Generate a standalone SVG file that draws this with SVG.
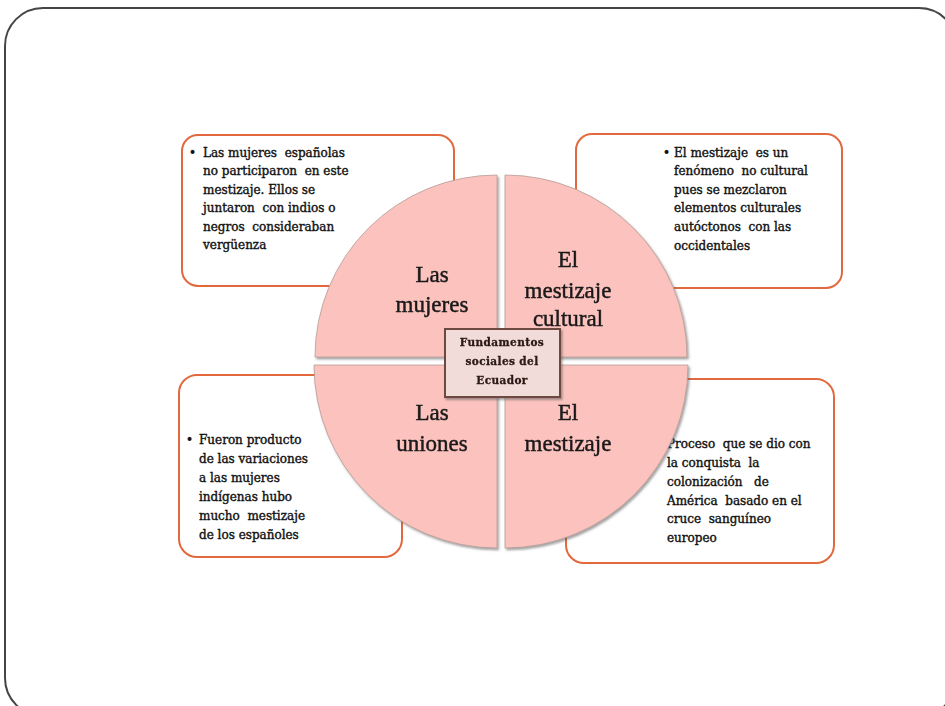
<svg xmlns="http://www.w3.org/2000/svg" width="945" height="706" viewBox="0 0 945 706">
<defs>
<style>
.frame{fill:#fff;stroke:#454545;stroke-width:2}
.box{fill:#fff;stroke:#E2693E;stroke-width:2}
.q{fill:#FCC3BE;stroke:#b89c98;stroke-width:0.8}
.ql{font-family:"Liberation Serif",serif;font-size:23px;fill:#1a1a1a;stroke:#1a1a1a;stroke-width:0.45;text-anchor:middle}
.bt{font-family:"DejaVu Serif",serif;font-size:12px;fill:#111;stroke:#111;stroke-width:0.4;white-space:pre}
.ct{font-family:"DejaVu Serif",serif;font-size:10.5px;font-weight:bold;fill:#2a1a14;stroke:#2a1a14;stroke-width:0.3;text-anchor:middle;letter-spacing:0.4px}
</style>
<filter id="sh" x="-10%" y="-10%" width="125%" height="125%">
<feDropShadow dx="1.5" dy="2" stdDeviation="1.3" flood-color="#555" flood-opacity="0.55"/>
</filter>
</defs>
<rect class="frame" x="5" y="8" width="952" height="708" rx="38"/>
<g id="box-mujeres">
<rect class="box" x="182" y="135" width="272" height="151" rx="16"/>
<text class="bt"><tspan x="189" y="157">•</tspan><tspan x="203" y="157">Las mujeres  españolas</tspan><tspan x="203" y="175">no participaron  en este</tspan><tspan x="203" y="194">mestizaje. Ellos se</tspan><tspan x="203" y="212">juntaron  con indios o</tspan><tspan x="203" y="231">negros  consideraban</tspan><tspan x="203" y="249">vergüenza</tspan></text>
</g>
<g id="box-cultural">
<rect class="box" x="576" y="134" width="266" height="154" rx="16"/>
<text class="bt"><tspan x="663" y="157">•</tspan><tspan x="674" y="157">El mestizaje  es un</tspan><tspan x="674" y="175">fenómeno  no cultural</tspan><tspan x="674" y="194">pues se mezclaron</tspan><tspan x="674" y="212">elementos culturales</tspan><tspan x="674" y="231">autóctonos  con las</tspan><tspan x="674" y="250">occidentales</tspan></text>
</g>
<g id="box-uniones">
<rect class="box" x="179" y="375" width="223" height="182" rx="18"/>
<text class="bt"><tspan x="186" y="444">•</tspan><tspan x="199" y="444">Fueron producto</tspan><tspan x="199" y="463">de las variaciones</tspan><tspan x="199" y="482">a las mujeres</tspan><tspan x="199" y="501">indígenas hubo</tspan><tspan x="199" y="520">mucho  mestizaje</tspan><tspan x="199" y="539">de los españoles</tspan></text>
</g>
<g id="box-mestizaje">
<rect class="box" x="566" y="379" width="268" height="184" rx="18"/>
<text class="bt"><tspan x="667" y="448">Proceso  que se dio con</tspan><tspan x="667" y="467">la conquista  la</tspan><tspan x="667" y="486">colonización   de</tspan><tspan x="667" y="505">América  basado en el</tspan><tspan x="667" y="523">cruce  sanguíneo</tspan><tspan x="667" y="542">europeo</tspan></text>
</g>
<g id="q-mujeres" filter="url(#sh)">
<path class="q" d="M497,357 L315,357 A182,182 0 0 1 497,175 Z"/>
<text class="ql"><tspan x="432" y="282">Las</tspan><tspan x="432" y="312">mujeres</tspan></text>
</g>
<g id="q-cultural" filter="url(#sh)">
<path class="q" d="M505,357 L505,175 A182,182 0 0 1 687,357 Z"/>
<text class="ql"><tspan x="568" y="267">El</tspan><tspan x="568" y="298">mestizaje</tspan><tspan x="568" y="326">cultural</tspan></text>
</g>
<g id="q-uniones" filter="url(#sh)">
<path class="q" d="M497,365 L497,548 A183,183 0 0 1 314,365 Z"/>
<text class="ql"><tspan x="432" y="420">Las</tspan><tspan x="432" y="451">uniones</tspan></text>
</g>
<g id="q-mestizaje" filter="url(#sh)">
<path class="q" d="M505,365 L688,365 A183,183 0 0 1 505,548 Z"/>
<text class="ql"><tspan x="568" y="420">El</tspan><tspan x="568" y="451">mestizaje</tspan></text>
</g>
<g id="center" filter="url(#sh)">
<rect x="445" y="329" width="115" height="68" fill="#F2DCD9" stroke="#6e4a3f" stroke-width="2"/>
<text class="ct"><tspan x="502" y="346">Fundamentos</tspan><tspan x="502" y="365">sociales del</tspan><tspan x="502" y="384">Ecuador</tspan></text>
</g>
<g id="connectors"/>
</svg>
